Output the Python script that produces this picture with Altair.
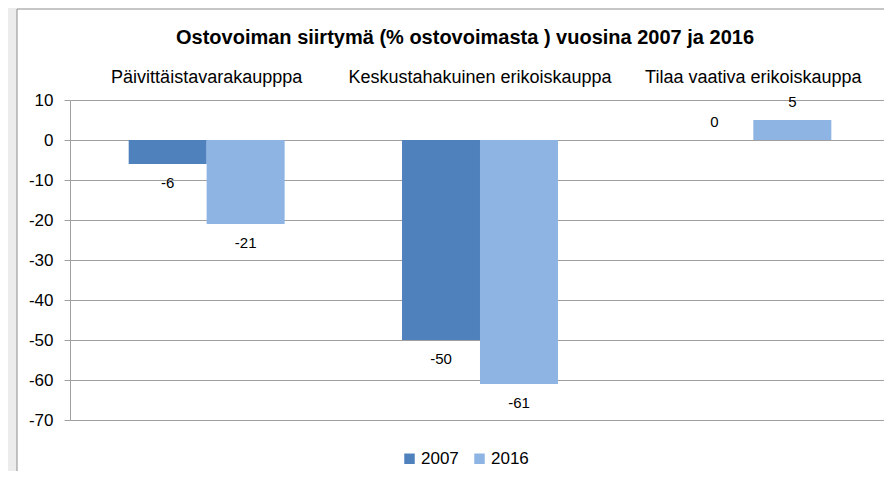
import altair as alt
import pandas as pd

categories = ["Päivittäistavarakaupppa", "Keskustahakuinen erikoiskauppa", "Tilaa vaativa erikoiskauppa"]
years = ["2007", "2016"]
values_2007 = [-6, -50, 0]
values_2016 = [-21, -61, 5]
y_ticks = [10, 0, -10, -20, -30, -40, -50, -60, -70]
colors = ["#4F81BD", "#8EB4E3"]

rows = []
for c, a, b in zip(categories, values_2007, values_2016):
    rows.append({"cat": c, "year": "2007", "value": a, "label": str(a)})
    rows.append({"cat": c, "year": "2016", "value": b, "label": str(b)})
df = pd.DataFrame(rows)

FONT = "Liberation Sans"

x = alt.X("cat:N", sort=categories, scale=alt.Scale(paddingInner=0, paddingOuter=0, range=[0, 820]),
          axis=alt.Axis(orient="top", title=None, labelAngle=0, domain=False, ticks=False, labelLimit=400,
                        labelFontSize=18, labelFont=FONT, labelColor="#000000", labelPadding=14))
xo = alt.XOffset("year:N", sort=years, scale=alt.Scale(paddingInner=0, paddingOuter=0.753))
y = alt.Y("value:Q", scale=alt.Scale(domain=[-70, 10], nice=False, zero=False),
          axis=alt.Axis(values=y_ticks, title=None, grid=True, gridColor="#a0a0a0", gridWidth=1,
                        domainColor="#a0a0a0", tickColor="#a0a0a0", tickSize=6,
                        labelExpr="'' + datum.value",
                        labelFontSize=17, labelFont=FONT, labelColor="#000000", labelPadding=11))

base = alt.Chart(df)

bars = base.mark_bar(size=78).encode(
    x=x, xOffset=xo, y=y, y2=alt.datum(0),
    color=alt.Color("year:N", sort=years, scale=alt.Scale(domain=years, range=colors),
                    legend=alt.Legend(title=None, orient="none", direction="horizontal",
                                      legendX=331, legendY=350, symbolType="square", symbolSize=110,
                                      symbolStrokeWidth=0, labelFontSize=17, labelFont=FONT,
                                      labelColor="#000000", columnPadding=12, labelOffset=3)),
)

text_neg = base.transform_filter("datum.value < 0").mark_text(
    dy=19, fontSize=15, font=FONT, color="#000000", baseline="middle").encode(
    x=x, xOffset=xo, y=y, text="label:N")
text_pos = base.transform_filter("datum.value >= 0").mark_text(
    dy=-18, fontSize=15, font=FONT, color="#000000", baseline="middle").encode(
    x=x, xOffset=xo, y=y, text="label:N")

frame = alt.Chart(alt.Data(values=[{}])).mark_rect(filled=False, stroke="#8c8c8c", strokeWidth=1).encode(
    x=alt.value(-53), x2=alt.value(830), y=alt.value(-91), y2=alt.value(400))
shade = alt.Chart(alt.Data(values=[{}])).mark_rect(fill="#ececec").encode(
    x=alt.value(-62), x2=alt.value(-53), y=alt.value(-92), y2=alt.value(400))

chart = alt.layer(shade, frame, bars, text_neg, text_pos).properties(
    width=814, height=320,
    autosize=alt.AutoSizeParams(type="none"),
    padding={"left": 62, "top": 92, "right": 0, "bottom": 51},
    background="white",
    title=alt.TitleParams("Ostovoiman siirtymä (% ostovoimasta ) vuosina 2007 ja 2016",
                          fontSize=20, fontWeight="bold", font=FONT, color="#000000",
                          anchor="middle", baseline="alphabetic", dx=-12, dy=56, offset=0),
).configure_view(stroke=None)

chart.save("out.html", embed_options={"renderer": "svg", "actions": False})
